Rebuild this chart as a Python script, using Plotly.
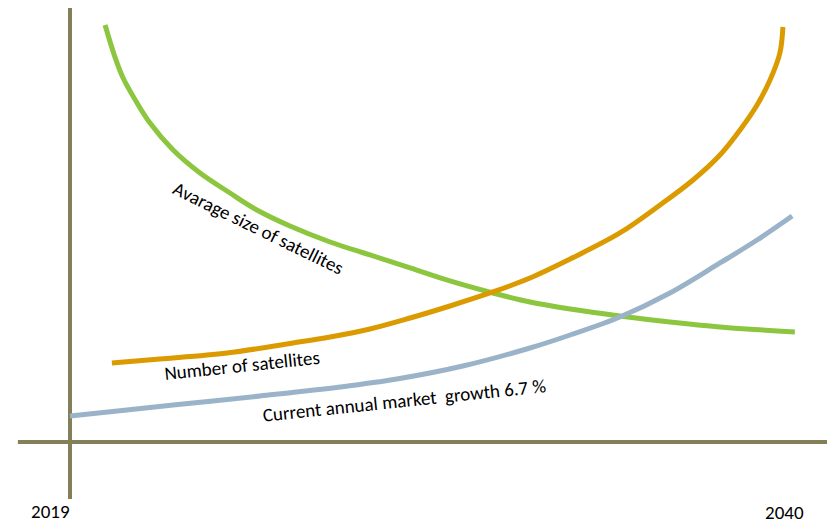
import plotly.graph_objects as go

# Years and values (value axis: 0 at the horizontal baseline)
size_years = [2020.03, 2020.32, 2020.56, 2020.97, 2021.35, 2022.03, 2022.82, 2023.70, 2024.49,
              2025.46, 2026.64, 2027.81, 2028.99, 2030.16, 2031.42, 2032.51, 2033.69, 2035.15,
              2036.62, 2038.09, 2040.29]
size_vals = [94.34, 87.10, 82.35, 76.70, 72.17, 66.06, 60.86, 56.33, 52.49,
             48.87, 45.25, 42.31, 39.37, 36.43, 33.71, 31.67, 30.09, 28.51,
             27.15, 26.02, 24.89]

num_years = [2020.23, 2021.64, 2023.61, 2025.55, 2026.64, 2027.81, 2028.99, 2030.16, 2031.42,
             2032.51, 2033.69, 2035.15, 2036.33, 2037.30, 2038.09, 2038.68, 2039.18, 2039.56,
             2039.85, 2039.94]
num_vals = [17.87, 18.78, 20.14, 22.40, 23.76, 25.57, 28.05, 30.77, 33.94,
            37.10, 41.40, 47.29, 53.62, 59.28, 64.93, 70.59, 76.24, 81.90,
            88.01, 93.89]

mkt_years = [2019.00, 2020.67, 2022.61, 2024.58, 2026.93, 2028.60, 2030.54, 2032.51, 2033.69,
             2035.15, 2036.62, 2038.09, 2039.18, 2040.21]
mkt_vals = [5.88, 7.24, 8.82, 10.41, 12.44, 14.25, 17.19, 21.27, 24.21,
            28.28, 33.71, 40.50, 45.70, 51.13]

start_year = "2019"
end_year = "2040"
label_size = "Avarage size of satellites"
label_num = "Number of satellites"
label_mkt = "Current annual market  growth 6.7 %"

AXIS = "#838059"
FONT = "Carlito, Lato, sans-serif"

fig = go.Figure()

# axis lines
fig.add_trace(go.Scatter(x=[2019, 2019], y=[98.2, -12.9], mode="lines",
                         line=dict(color=AXIS, width=4), hoverinfo="skip", showlegend=False))
fig.add_trace(go.Scatter(x=[2017.47, 2041.3], y=[0, 0], mode="lines",
                         line=dict(color=AXIS, width=4), hoverinfo="skip", showlegend=False))

fig.add_trace(go.Scatter(x=size_years, y=size_vals, mode="lines", line_shape="spline",
                         line=dict(color="#8cc63f", width=5), showlegend=False))
fig.add_trace(go.Scatter(x=num_years, y=num_vals, mode="lines", line_shape="spline",
                         line=dict(color="#da9a00", width=5), showlegend=False))
fig.add_trace(go.Scatter(x=mkt_years, y=mkt_vals, mode="lines", line_shape="spline",
                         line=dict(color="#9bb3c9", width=5), showlegend=False))

anns = [
    (label_size, 2024.55, 48.4, 26),
    (label_num, 2024.05, 17.4, -6),
    (label_mkt, 2028.81, 9.5, -6),
    (start_year, 2018.44, -15.8, 0),
    (end_year, 2040.0, -16.06, 0),
]
for text, x, y, ang in anns:
    fig.add_annotation(x=x, y=y, text=text, showarrow=False, textangle=ang,
                       xanchor="center", yanchor="middle",
                       font=dict(family=FONT, size=19, color="#000000"))

fig.update_xaxes(range=[2016.944, 2041.234], visible=False)
fig.update_yaxes(range=[-18.326, 100], visible=False)
fig.update_layout(width=827, height=523, margin=dict(l=0, r=0, t=0, b=0),
                  plot_bgcolor="white", paper_bgcolor="white")

fig.write_html("out.html")
